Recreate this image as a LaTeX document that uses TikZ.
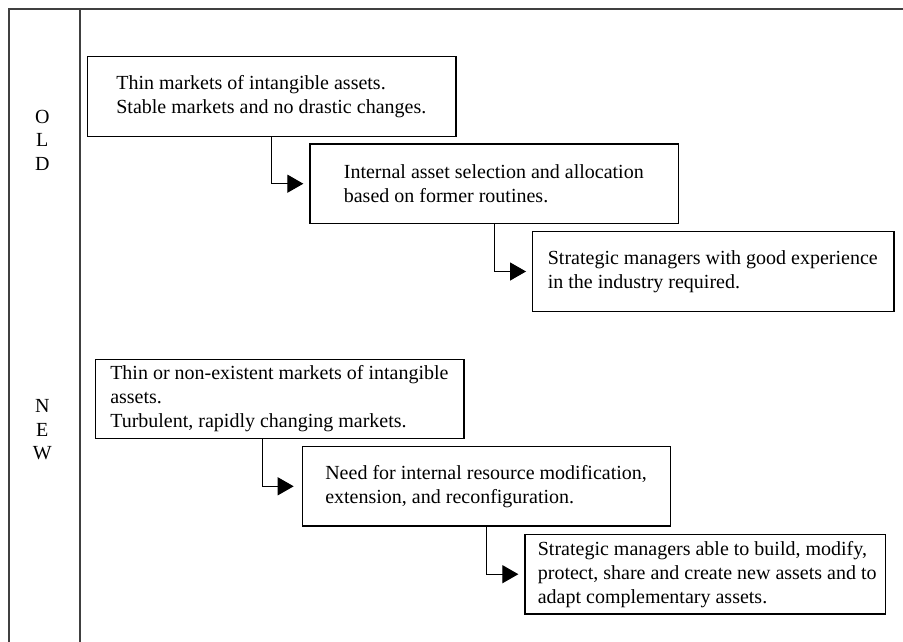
\documentclass[tikz,border=0pt]{standalone}
\usepackage{fontspec}
\setmainfont{Liberation Serif}
\usetikzlibrary{arrows.meta}
\begin{document}
\begin{tikzpicture}[x=1pt,y=-1pt,
  frame/.style={draw=black!75, line width=1.3pt},
  boxst/.style={draw=black, line width=1.2pt, rectangle, inner sep=0pt},
  txt/.style={anchor=west, align=left, inner sep=0pt, font=\fontsize{20}{24}\selectfont},
  lab/.style={align=center, inner sep=0pt, font=\fontsize{20}{23.5}\selectfont},
  arr/.style={draw=black, line width=1.2pt, -{Triangle[length=16pt,width=18pt]}, shorten >=6pt}]
\useasboundingbox (0,0) rectangle (903,642);
% frame
\coordinate (tl) at (9,9);
\coordinate (tr) at (903,9);
\coordinate (bl) at (9,642);
\coordinate (dt) at (80,9);
\coordinate (db) at (80,642);
\draw[frame] (bl) -- (tl) -- (tr);
\draw[frame] (dt) -- (db);
% side labels
\node[lab] (old) at (42.3,140) {O\\L\\D};
\node[lab] (new) at (42.3,430) {N\\E\\W};
% OLD boxes
\node[boxst, minimum width=368.7pt, minimum height=79.3pt] (b1) at (271.7,96.5) {};
\node[txt] (t1) at ([xshift=29.4pt]b1.west) {Thin markets of intangible assets.\\Stable markets and no drastic changes.};
\node[boxst, minimum width=368.7pt, minimum height=79.3pt] (b2) at (494.3,183.7) {};
\node[txt] (t2) at ([xshift=34.3pt]b2.west) {Internal asset selection and allocation\\based on former routines.};
\node[boxst, minimum width=361.3pt, minimum height=79.6pt] (b3) at (713.3,271.5) {};
\node[txt] (t3) at ([xshift=15.6pt]b3.west) {Strategic managers with good experience\\in the industry required.};
% NEW boxes
\node[boxst, minimum width=368.3pt, minimum height=79pt] (b4) at (279.8,398.8) {};
\node[txt] (t4) at ([xshift=15pt]b4.west) {Thin or non-existent markets of intangible\\assets.\\Turbulent, rapidly changing markets.};
\node[boxst, minimum width=368.4pt, minimum height=79.3pt] (b5) at (486.5,486.3) {};
\node[txt] (t5) at ([xshift=23.4pt]b5.west) {Need for internal resource modification,\\extension, and reconfiguration.};
\node[boxst, minimum width=360.7pt, minimum height=79.7pt] (b6) at (705.3,574.2) {};
\node[txt] (t6) at ([xshift=13.3pt]b6.west) {Strategic managers able to build, modify,\\protect, share and create new assets and to\\adapt complementary assets.};
% connectors
\draw[arr] (b1.south) |- (b2.west);
\draw[arr] (b2.south) |- (b3.west);
\draw[arr, shorten >=8pt] ([xshift=-17pt]b4.south) |- (b5.west);
\draw[arr] (b5.south) |- (b6.west);
\end{tikzpicture}
\end{document}
